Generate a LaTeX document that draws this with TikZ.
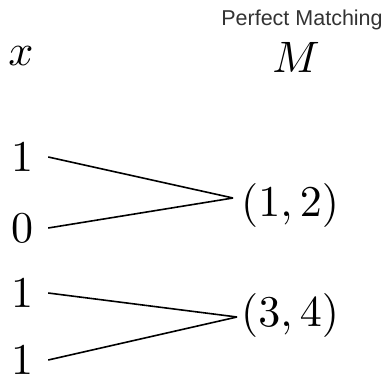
\RequirePackage{fix-cm}
\documentclass[tikz,border=0pt]{standalone}
\usepackage{fontspec}
\DeclareFontShape{OT1}{cmr}{m}{n}{<->cmr10}{}
\DeclareFontShape{OML}{cmm}{m}{it}{<->cmmi10}{}
\newfontfamily\headfont{Liberation Sans}
\usetikzlibrary{positioning}
\tikzstyle{head} = [inner sep=0pt, text=black!80, font=\headfont\fontsize{21.5}{24}\selectfont]
\tikzstyle{bit} = [inner xsep=15pt, inner ysep=0pt, font=\fontsize{44}{48}\selectfont]
\tikzstyle{pair} = [inner xsep=0pt, inner ysep=0pt, anchor=west, font=\fontsize{44}{48}\selectfont]
\tikzstyle{edge} = [line width=1.6pt]

\begin{document}
\begin{tikzpicture}[x=1pt, y=-1pt]
  \useasboundingbox (0,0) rectangle (382,377);
  % column heads
  \node[head] (title) at (302,20) {Perfect Matching};
  \node[bit] (xhead) at (21,56) {$x$};
  \node[bit] (mhead) at (296,57) {$M$};
  % input bits
  \node[bit] (b1) at (22,157) {$1$};
  \node[bit] (b2) at (22,228) {$0$};
  \node[bit] (b3) at (22,293) {$1$};
  \node[bit] (b4) at (22,360) {$1$};
  % matched pairs
  \coordinate (j12) at (233,198);
  \coordinate (j34) at (237,317);
  \node[pair] (p12) at (241,205) {$(1,2)$};
  \node[pair] (p34) at (241,315) {$(3,4)$};
  \draw[edge] (b1.east) -- (j12);
  \draw[edge] (b2.east) -- (j12);
  \draw[edge] (b3.east) -- (j34);
  \draw[edge] (b4.east) -- (j34);
\end{tikzpicture}
\end{document}
